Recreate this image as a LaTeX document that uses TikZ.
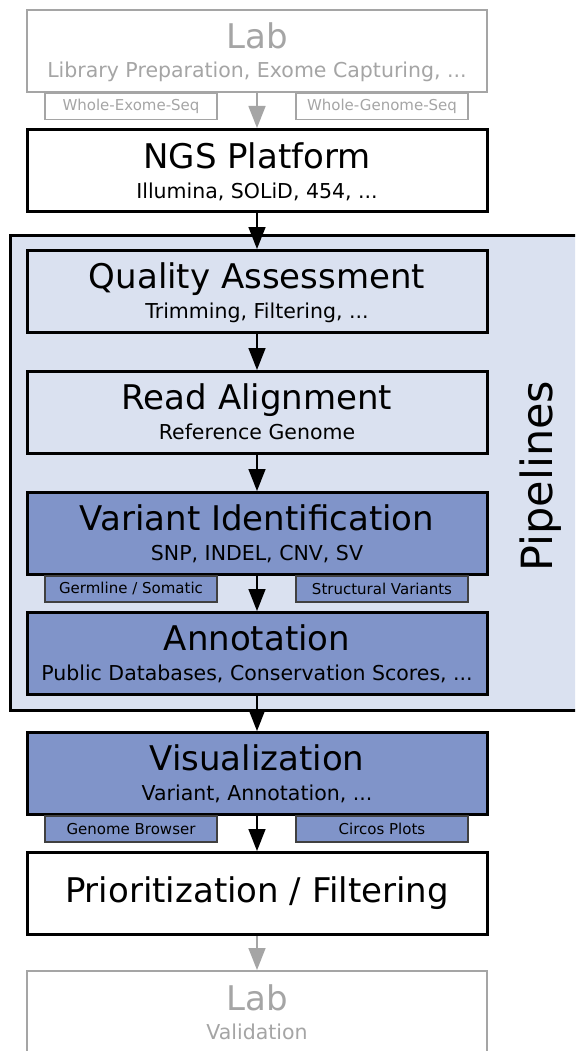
\documentclass[tikz,border=0pt]{standalone}
\usepackage{fontspec}
\setmainfont{DejaVu Sans}
\usetikzlibrary{arrows.meta}
\definecolor{pipebg}{RGB}{218,225,240}
\definecolor{varblue}{RGB}{128,148,201}
\definecolor{labgray}{RGB}{165,165,165}
\tikzset{
  stage/.style={draw, line width=3pt, minimum width=460pt, minimum height=82pt, inner sep=0pt},
  labstage/.style={stage, draw=labgray, line width=2pt},
  tag/.style={draw, line width=1.5pt, minimum width=172pt, minimum height=26pt, inner sep=0pt,
    font=\fontsize{15}{18}\selectfont},
  flow/.style={-{Triangle[width=17pt,length=22pt]}, line width=1.5pt},
  title/.style={anchor=base, font=\fontsize{34}{40}\selectfont},
  subtitle/.style={anchor=base, font=\fontsize{20.5}{24}\selectfont},
}
\begin{document}
\begin{tikzpicture}[x=1pt,y=1pt]
    \useasboundingbox (0,0) rectangle (575,-1051);
    \clip (0,0) rectangle (575,-1051);
    \fill[white] (0,0) rectangle (575,-1051);

    % Pipelines frame
    \node[draw, line width=3pt, fill=pipebg, minimum width=590pt, minimum height=475pt, inner sep=0pt]
        (pipe) at (305,-472.5) {};
    \node[anchor=base, rotate=90, font=\fontsize{43}{50}\selectfont] (pipe-t) at (552,-476) {Pipelines};

    % Lab (sequencing side)
    \node[labstage] (lab1) at (257,-51.5) {};
    \node[title, text=labgray] (lab1-t) at ([yshift=-39pt]lab1.north) {Lab};
    \node[subtitle, text=labgray] (lab1-s) at ([yshift=-68pt]lab1.north) {Library Preparation, Exome Capturing, ...};
    \node[tag, draw=labgray, text=labgray, anchor=north] (wes) at (131,-93) {Whole-Exome-Seq};
    \node[tag, draw=labgray, text=labgray, anchor=north] (wgs) at (382,-93) {Whole-Genome-Seq};

    % NGS platform
    \node[stage, fill=white] (ngs) at (257,-170.5) {};
    \node[title] (ngs-t) at ([yshift=-41pt]ngs.north) {NGS Platform};
    \node[subtitle] (ngs-s) at ([yshift=-70pt]ngs.north) {Illumina, SOLiD, 454, ...};

    % Quality assessment
    \node[stage, fill=pipebg] (qa) at (257,-291.5) {};
    \node[title] (qa-t) at ([yshift=-39pt]qa.north) {Quality Assessment};
    \node[subtitle] (qa-s) at ([yshift=-69pt]qa.north) {Trimming, Filtering, ...};

    % Read alignment
    \node[stage, fill=pipebg] (ra) at (257,-412.5) {};
    \node[title] (ra-t) at ([yshift=-39pt]ra.north) {Read Alignment};
    \node[subtitle] (ra-s) at ([yshift=-69pt]ra.north) {Reference Genome};

    % Variant identification
    \node[stage, fill=varblue] (vi) at (257,-533.5) {};
    \node[title] (vi-t) at ([yshift=-39pt]vi.north) {Variant Identification};
    \node[subtitle] (vi-s) at ([yshift=-69pt]vi.north) {SNP, INDEL, CNV, SV};
    \node[tag, fill=varblue, draw=black!75, anchor=north] (germ) at (131,-575) {Germline / Somatic};
    \node[tag, fill=varblue, draw=black!75, anchor=north] (sv) at (382,-575) {Structural Variants};

    % Annotation
    \node[stage, fill=varblue] (ann) at (257,-653.5) {};
    \node[title] (ann-t) at ([yshift=-39pt]ann.north) {Annotation};
    \node[subtitle] (ann-s) at ([yshift=-69pt]ann.north) {Public Databases, Conservation Scores, ...};

    % Visualization
    \node[stage, fill=varblue] (vis) at (257,-773.5) {};
    \node[title] (vis-t) at ([yshift=-39pt]vis.north) {Visualization};
    \node[subtitle] (vis-s) at ([yshift=-69pt]vis.north) {Variant, Annotation, ...};
    \node[tag, fill=varblue, draw=black!75, anchor=north] (gb) at (131,-815) {Genome Browser};
    \node[tag, fill=varblue, draw=black!75, anchor=north] (circ) at (382,-815) {Circos Plots};

    % Prioritization
    \node[stage, fill=white] (prio) at (257,-893.5) {};
    \node[title] (prio-t) at ([yshift=-51pt]prio.north) {Prioritization / Filtering};

    % Lab (validation)
    \node[labstage] (lab2) at (257,-1012) {};
    \node[title, text=labgray] (lab2-t) at ([yshift=-40pt]lab2.north) {Lab};
    \node[subtitle, text=labgray] (lab2-s) at ([yshift=-69pt]lab2.north) {Validation};

    % Flow arrows
    \draw[flow, labgray] (lab1) -- (ngs);
    \draw[flow] (ngs) -- (qa);
    \draw[flow] (qa) -- (ra);
    \draw[flow] (ra) -- (vi);
    \draw[flow] (vi) -- (ann);
    \draw[flow] (ann) -- (vis);
    \draw[flow] (vis) -- (prio);
    \draw[flow, labgray] (prio) -- (lab2);
\end{tikzpicture}
\end{document}
